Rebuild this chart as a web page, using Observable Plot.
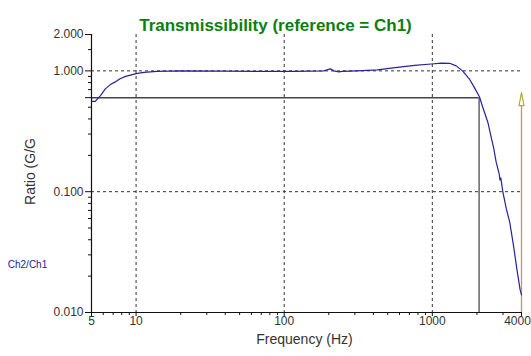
<!DOCTYPE html>
<html><head><meta charset="utf-8">
<script src="https://cdn.jsdelivr.net/npm/d3@7"></script>
<script src="https://cdn.jsdelivr.net/npm/@observablehq/plot@0.6"></script>
<style>body{margin:0;background:#fff;font-family:Arial,"Liberation Sans",sans-serif}</style>
</head><body><div id="chart"></div>
<script>
const title = "Transmissibility (reference = Ch1)";
const xLabel = "Frequency (Hz)";
const yLabel = "Ratio (G/G";
const seriesName = "Ch2/Ch1";

const freq = [5, 5.3, 5.75, 6.2, 6.7, 7.3, 7.8, 8.5, 10, 11.3, 13.8, 20, 40, 81, 119, 185, 205, 216, 234, 246, 310, 425, 580, 760, 985, 1150, 1310, 1450, 1600, 1775, 1920, 2080, 2190, 2370, 2500, 2590, 2700, 2830, 2860, 2900, 3000, 3160, 3330, 3530, 3720, 3920, 4000];
const ratio = [0.56, 0.56, 0.625, 0.71, 0.77, 0.815, 0.86, 0.90, 0.95, 0.97, 0.99, 1.0, 0.995, 0.99, 0.99, 1.0, 1.04, 1.0, 0.98, 0.99, 1.0, 1.02, 1.07, 1.11, 1.14, 1.16, 1.155, 1.10, 1.0, 0.86, 0.73, 0.61, 0.50, 0.376, 0.28, 0.233, 0.175, 0.14, 0.125, 0.13, 0.098, 0.072, 0.056, 0.036, 0.023, 0.0153, 0.014];

const xTicks = [5, 10, 100, 1000, 4000];
const xTickLabels = ["5", "10", "100", "1000", "4000"];
const xMinor = [6, 7, 8, 9, 20, 30, 40, 50, 60, 70, 80, 90, 200, 300, 400, 500, 600, 700, 800, 900, 2000, 3000];
const yTicks = [0.01, 0.1, 0.6, 1, 2];
const yTickLabels = ["0.010", "0.100", "0.7", "1.000", "2.000"];
const yMinor = [0.02, 0.03, 0.04, 0.05, 0.06, 0.07, 0.08, 0.09, 0.2, 0.3, 0.4, 0.5, 0.7, 0.8, 0.9, 1.5];
const gridX = [10, 100, 1000];
const gridY = [0.1, 1];
const cutFreq = 2070;
const cutLevel = 0.6;
const arrowFreq = 4000;
const arrowTip = 0.66;
const arrowBase = 0.52;

const data = freq.map((f, i) => ({f, r: ratio[i]}));
const xLabelRows = xTicks.map((v, i) => ({v, t: xTickLabels[i]}));

const triShape = {
  draw(ctx, l, r) {
    ctx.moveTo(0, 0);
    ctx.lineTo(-2.5, 13);
    ctx.lineTo(2.5, 13);
    ctx.closePath();
  }
};

const chart = Plot.plot({
  width: 531,
  height: 356,
  marginTop: 34,
  marginBottom: 44,
  marginLeft: 91,
  marginRight: 10,
  style: {fontFamily: "Arial, 'Liberation Sans', sans-serif", background: "#fff"},
  x: {type: "log", domain: [5, 4000]},
  y: {type: "log", domain: [0.01, 2]},
  marks: [
    Plot.ruleX(gridX, {stroke: "#333", strokeDasharray: "3,3", strokeWidth: 1}),
    Plot.ruleY(gridY, {stroke: "#333", strokeDasharray: "3,3", strokeWidth: 1}),
    Plot.ruleY([cutLevel], {x1: 5, x2: cutFreq, stroke: "#444", strokeWidth: 1.5}),
    Plot.ruleX([cutFreq], {y1: 0.01, y2: cutLevel, stroke: "#666", strokeWidth: 1.5}),
    Plot.ruleX([arrowFreq], {y1: 0.01, y2: arrowBase, stroke: "#b0a83c", strokeWidth: 1.3}),
    Plot.vector([arrowFreq], {x: d => d, y: () => arrowTip, shape: triShape, anchor: "start", length: 13, stroke: "#b0a83c", fill: "#fff", strokeWidth: 1.2}),
    Plot.line(data, {x: "f", y: "r", stroke: "#24249a", strokeWidth: 1.2}),
    Plot.ruleX([5], {stroke: "#111", strokeWidth: 1.2}),
    Plot.ruleY([0.01], {stroke: "#111", strokeWidth: 1.2}),
    Plot.axisX(xTicks, {tickSize: 4, tickFormat: () => "", stroke: "#111", label: null}),
    Plot.axisX(xMinor, {tickSize: 3, tickFormat: () => "", stroke: "#111", label: null}),
    Plot.text(xLabelRows.slice(0, -1), {x: "v", text: "t", frameAnchor: "bottom", dy: 12, fontSize: 12, fill: "#333"}),
    Plot.text(xLabelRows.slice(-1), {x: "v", text: "t", frameAnchor: "bottom", dy: 12, dx: -4, fontSize: 12, fill: "#333"}),
    Plot.axisY(yTicks, {tickSize: 6, tickPadding: 2, tickFormat: d => yTickLabels[yTicks.indexOf(d)], fontSize: 12, color: "#333", stroke: "#111", label: null}),
    Plot.axisY(yMinor, {tickSize: 3, tickFormat: () => "", stroke: "#111", label: null}),
    Plot.text([title], {text: d => d, frameAnchor: "top", textAnchor: "middle", dx: -31, dy: -16, fontSize: 17, fontWeight: "bold", fill: "#0a800a"}),
    Plot.text([xLabel], {text: d => d, frameAnchor: "bottom", textAnchor: "middle", dx: -2, dy: 31, fontSize: 14, fill: "#333"}),
    Plot.text([yLabel], {text: d => d, frameAnchor: "left", textAnchor: "middle", rotate: -90, dx: -61, dy: -2, fontSize: 14, fill: "#333"}),
    Plot.text([seriesName], {text: d => d, frameAnchor: "bottom-left", textAnchor: "middle", dx: -64, dy: -45, fontSize: 10, fill: "#2020a0"})
  ]
});
document.getElementById("chart").appendChild(chart);
</script>
</body></html>
